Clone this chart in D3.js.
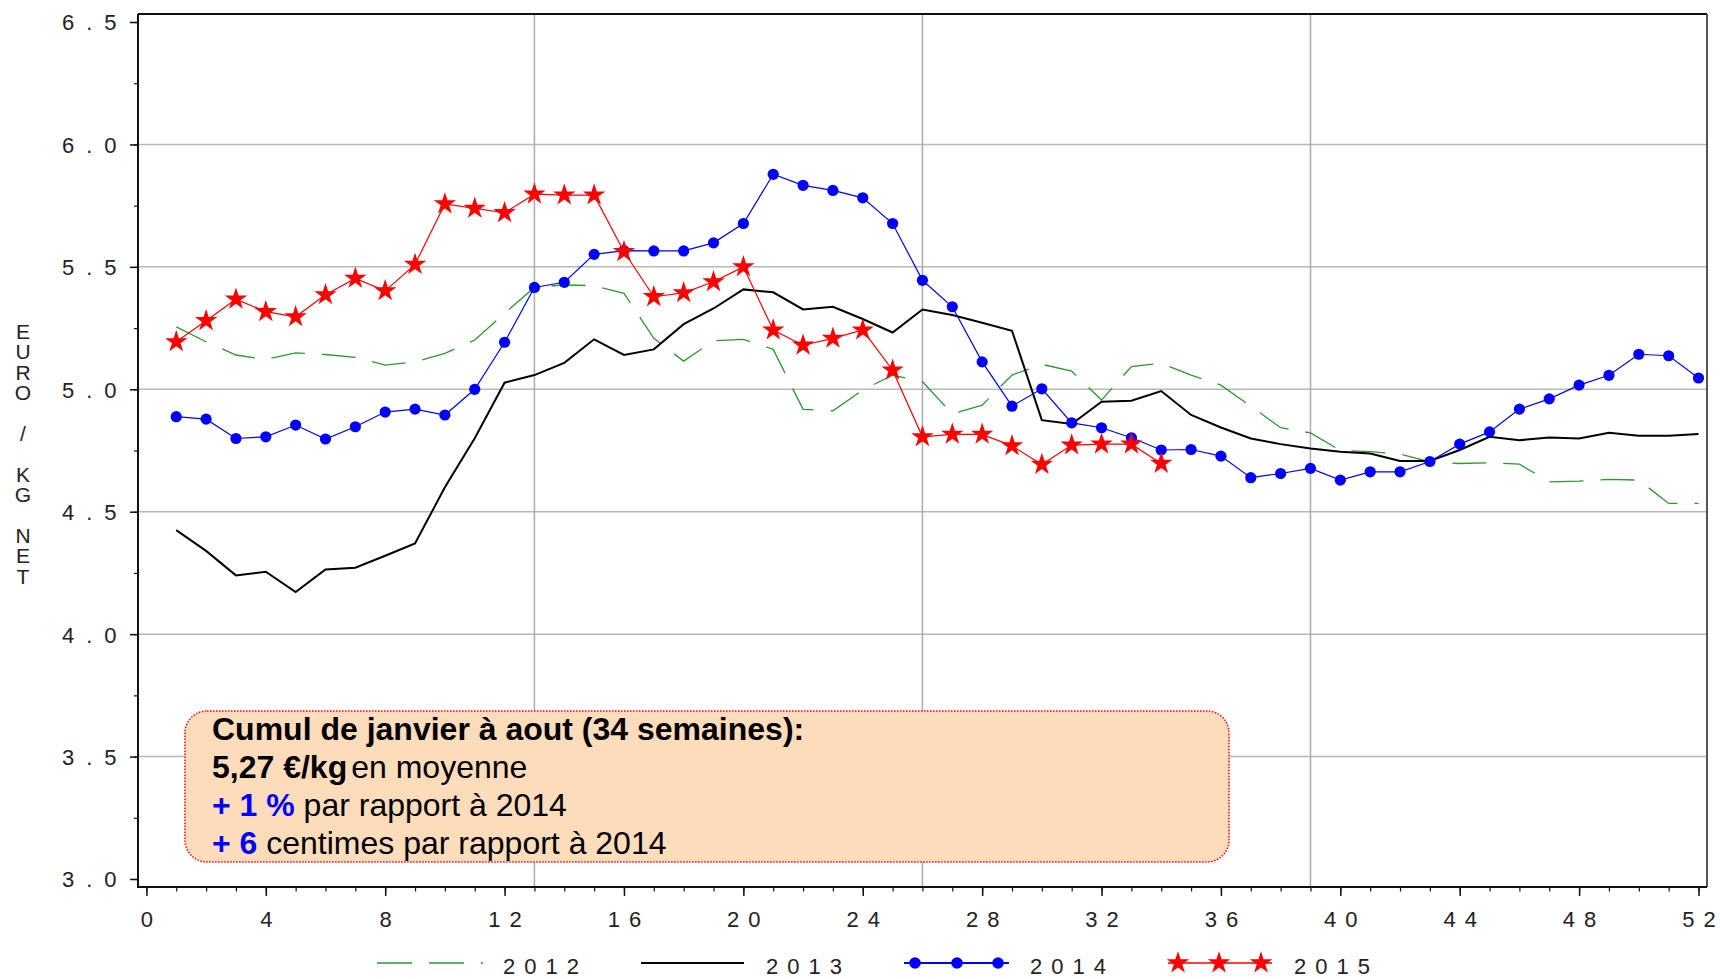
<!DOCTYPE html>
<html><head><meta charset="utf-8">
<script src="https://cdn.jsdelivr.net/npm/d3@7"></script>
<style>body{margin:0;background:#fff;} svg{display:block;}</style>
</head><body>
<svg id="c" width="1720" height="979"></svg>
<script>
// ---------- data ----------
const weeks = d3.range(1, 53);
const v2012 = [5.255,5.194,5.14,5.122,5.149,5.142,5.13,5.099,5.112,5.147,
  5.201,5.31,5.416,5.426,5.423,5.392,5.208,5.115,5.198,5.204,
  5.163,4.918,4.912,4.997,5.058,5.031,4.899,4.935,5.058,5.102,
  5.074,4.956,5.093,5.106,5.058,5.017,4.931,4.843,4.822,4.75,
  4.745,4.735,4.704,4.697,4.70,4.694,4.622,4.625,4.632,4.629,
  4.534,4.534];
const v2013 = [4.425,4.34,4.24,4.255,4.172,4.264,4.271,4.32,4.37,4.60,
  4.80,5.027,5.058,5.108,5.204,5.14,5.163,5.266,5.33,5.408,
  5.396,5.326,5.337,5.287,5.232,5.326,5.303,5.272,5.239,4.874,
  4.858,4.949,4.953,4.993,4.895,4.844,4.799,4.776,4.758,4.745,
  4.738,4.707,4.707,4.752,4.806,4.792,4.803,4.799,4.822,4.81,
  4.81,4.817];
const v2014 = [4.888,4.878,4.799,4.806,4.854,4.797,4.847,4.907,4.919,4.895,
  5.0,5.192,5.416,5.437,5.551,5.566,5.565,5.565,5.598,5.677,
  5.878,5.833,5.812,5.782,5.677,5.445,5.337,5.112,4.931,5.002,
  4.863,4.843,4.802,4.752,4.754,4.727,4.639,4.656,4.677,4.629,
  4.663,4.663,4.705,4.776,4.826,4.919,4.961,5.017,5.057,5.143,
  5.137,5.046];
const v2015 = [5.194,5.28,5.368,5.317,5.296,5.386,5.453,5.402,5.51,5.757,
  5.739,5.721,5.797,5.793,5.793,5.562,5.378,5.394,5.439,5.50,
  5.242,5.18,5.208,5.242,5.078,4.806,4.816,4.816,4.769,4.693,
  4.772,4.776,4.776,4.697];
const xTicks = d3.range(0, 53, 4);
const xMinor = d3.range(0, 53, 1);
const yTicks = [3.0,3.5,4.0,4.5,5.0,5.5,6.0,6.5];
const yMinor = d3.range(3.0, 6.51, 0.25);
const xGrid = [13, 26, 39];
const yGrid = [3.5,4.0,4.5,5.0,5.5,6.0];
const seriesNames = ["2012","2013","2014","2015"];
const yTitle = "EURO / KG NET";
const noteLines = [
  [{t:"Cumul de janvier à aout (34 semaines):", b:true, c:"#000", dx:0}],
  [{t:"5,27 €/kg", b:true, c:"#000", dx:0}, {t:"en moyenne", b:false, c:"#000", dx:4}],
  [{t:"+ 1 %", b:true, c:"#0000ff", dx:0}, {t:" par rapport à 2014", b:false, c:"#000", dx:0}],
  [{t:"+ 6", b:true, c:"#0000ff", dx:0}, {t:" centimes par rapport à 2014", b:false, c:"#000", dx:0}]
];

// ---------- layout ----------
const box = {left:138, right:1707, top:14, bottom:887};
const x = d3.scaleLinear().domain([0, 52]).range([146.4, 1698.5]);
const y = d3.scaleLinear().domain([3.0, 6.5]).range([879, 22]);
const svg = d3.select("#c");
const tickFont = "'Liberation Sans', Arial, sans-serif";
const textCol = "#222";

// letter-spaced text without trailing space
function spaced(sel, ls) {
  sel.each(function() {
    const el = d3.select(this);
    const s = el.text();
    el.text("");
    el.append("tspan").attr("letter-spacing", ls + "px").text(s.slice(0, -1));
    el.append("tspan").attr("letter-spacing", "0px").text(s.slice(-1));
  });
}

// grid
svg.append("g").selectAll("line").data(yGrid).join("line")
  .attr("x1", box.left).attr("x2", box.right)
  .attr("y1", d => y(d)).attr("y2", d => y(d))
  .attr("stroke", "#b8b8b8").attr("stroke-width", 1.5);
svg.append("g").selectAll("line").data(xGrid).join("line")
  .attr("x1", d => x(d)).attr("x2", d => x(d))
  .attr("y1", box.top).attr("y2", box.bottom)
  .attr("stroke", "#ababab").attr("stroke-width", 1.5);

// frame
svg.append("line").attr("x1", box.left).attr("x2", box.right).attr("y1", box.top).attr("y2", box.top)
  .attr("stroke", "#111").attr("stroke-width", 2);
svg.append("line").attr("x1", box.right).attr("x2", box.right).attr("y1", box.top).attr("y2", box.bottom)
  .attr("stroke", "#555").attr("stroke-width", 2);

// axes
const yAx = svg.append("g").attr("transform", `translate(${box.left},0)`)
  .call(d3.axisLeft(y).tickValues(yTicks).tickSize(8).tickFormat(d3.format(".1f")));
yAx.select(".domain").remove();
yAx.selectAll(".tick line").attr("stroke", "#111").attr("stroke-width", 1.5);
yAx.selectAll(".tick text").attr("x", -76).attr("text-anchor", "start").attr("dy", "0.36em")
  .attr("font-family", tickFont).attr("font-size", 22).attr("fill", textCol)
  .call(spaced, 12);
const yAxMin = svg.append("g").attr("transform", `translate(${box.left},0)`)
  .call(d3.axisLeft(y).tickValues(yMinor).tickSize(4).tickFormat(""));
yAxMin.select(".domain").remove();
yAxMin.selectAll(".tick line").attr("stroke", "#111").attr("stroke-width", 1.2);

const xAx = svg.append("g").attr("transform", `translate(0,${box.bottom})`)
  .call(d3.axisBottom(x).tickValues(xTicks).tickSize(9));
xAx.select(".domain").remove();
xAx.selectAll(".tick line").attr("stroke", "#111").attr("stroke-width", 1.5);
xAx.selectAll(".tick text").attr("y", 40).attr("dy", 0)
  .attr("font-family", tickFont).attr("font-size", 22).attr("fill", textCol)
  .call(spaced, 9);
const xAxMin = svg.append("g").attr("transform", `translate(0,${box.bottom})`)
  .call(d3.axisBottom(x).tickValues(xMinor).tickSize(4.5).tickFormat(""));
xAxMin.select(".domain").remove();
xAxMin.selectAll(".tick line").attr("stroke", "#111").attr("stroke-width", 1.2);

svg.append("line").attr("x1", box.left).attr("x2", box.left).attr("y1", box.top).attr("y2", box.bottom + 1)
  .attr("stroke", "#111").attr("stroke-width", 2);
svg.append("line").attr("x1", box.left).attr("x2", box.right).attr("y1", box.bottom).attr("y2", box.bottom)
  .attr("stroke", "#111").attr("stroke-width", 2);

// y title: one vertical text with upright letters
const titleStep = 20.4;
const tt = svg.append("text")
  .attr("x", 23).attr("y", 330 - titleStep / 2)
  .attr("font-family", tickFont).attr("font-size", 21).attr("fill", textCol)
  .style("writing-mode", "vertical-rl").style("text-orientation", "upright")
  .style("white-space", "pre")
  .text(yTitle);
const natLen = tt.node().getComputedTextLength() / yTitle.length;
tt.attr("letter-spacing", (titleStep - natLen) + "px");

// lines
const line = d3.line().x(d => x(d[0])).y(d => y(d[1]));
const zipW = vals => vals.map((v, i) => [weeks[i], v]);

svg.append("path").attr("d", line(zipW(v2012))).attr("fill", "none")
  .attr("stroke", "#2a9a2a").attr("stroke-width", 1.3).attr("stroke-dasharray", "34,17");
svg.append("path").attr("d", line(zipW(v2013))).attr("fill", "none")
  .attr("stroke", "#000").attr("stroke-width", 2);
svg.append("path").attr("d", line(zipW(v2014))).attr("fill", "none")
  .attr("stroke", "#0000ff").attr("stroke-width", 1.2);
svg.append("g").selectAll("circle").data(zipW(v2014)).join("circle")
  .attr("cx", d => x(d[0])).attr("cy", d => y(d[1])).attr("r", 5.6).attr("fill", "#0000ff");
svg.append("path").attr("d", line(zipW(v2015))).attr("fill", "none")
  .attr("stroke", "#ff0000").attr("stroke-width", 1.2);
const star = d3.symbol().type(d3.symbolStar).size(155);
svg.append("g").selectAll("path").data(zipW(v2015)).join("path")
  .attr("transform", d => `translate(${x(d[0])},${y(d[1])})`).attr("d", star()).attr("fill", "#ff0000");

// annotation box
svg.append("rect").attr("x", 185).attr("y", 711).attr("width", 1229 - 185).attr("height", 862 - 711)
  .attr("rx", 22).attr("ry", 22).attr("fill", "#fddcbb")
  .attr("stroke", "#ff0000").attr("stroke-width", 1.5).attr("stroke-dasharray", "1.5,1.5");
const noteBase = [740, 778, 816, 854];
noteLines.forEach((parts, i) => {
  const t = svg.append("text").attr("x", 212).attr("y", noteBase[i])
    .attr("font-family", "'Liberation Sans', Arial, sans-serif").attr("font-size", 32);
  parts.forEach(p => t.append("tspan").attr("font-weight", p.b ? "bold" : "normal").attr("fill", p.c)
    .attr("dx", p.dx).style("white-space", "pre").text(p.t));
});

// legend
const ly = 963, lty = 974;
const lg = svg.append("g");
lg.append("line").attr("x1", 377).attr("x2", 483).attr("y1", ly).attr("y2", ly)
  .attr("stroke", "#2a9a2a").attr("stroke-width", 1.5).attr("stroke-dasharray", "35,17");
lg.append("line").attr("x1", 641).attr("x2", 744).attr("y1", ly).attr("y2", ly)
  .attr("stroke", "#000").attr("stroke-width", 2);
lg.append("line").attr("x1", 904).attr("x2", 1009).attr("y1", ly).attr("y2", ly)
  .attr("stroke", "#0000ff").attr("stroke-width", 1.8);
lg.selectAll("circle.l").data([915, 957, 998]).join("circle").attr("class", "l")
  .attr("cx", d => d).attr("cy", ly).attr("r", 5.8).attr("fill", "#0000ff");
lg.append("line").attr("x1", 1168).attr("x2", 1272).attr("y1", ly).attr("y2", ly)
  .attr("stroke", "#ff0000").attr("stroke-width", 1.5);
lg.selectAll("path.s").data([1178, 1219, 1261]).join("path").attr("class", "s")
  .attr("transform", d => `translate(${d},${ly})`).attr("d", star()).attr("fill", "#ff0000");
const legX = [503, 766, 1030, 1294];
lg.selectAll("text").data(seriesNames).join("text")
  .attr("x", (d, i) => legX[i]).attr("y", lty)
  .attr("font-family", tickFont).attr("font-size", 22).attr("fill", textCol)
  .text(d => d).call(spaced, 9);
</script>
</body></html>
